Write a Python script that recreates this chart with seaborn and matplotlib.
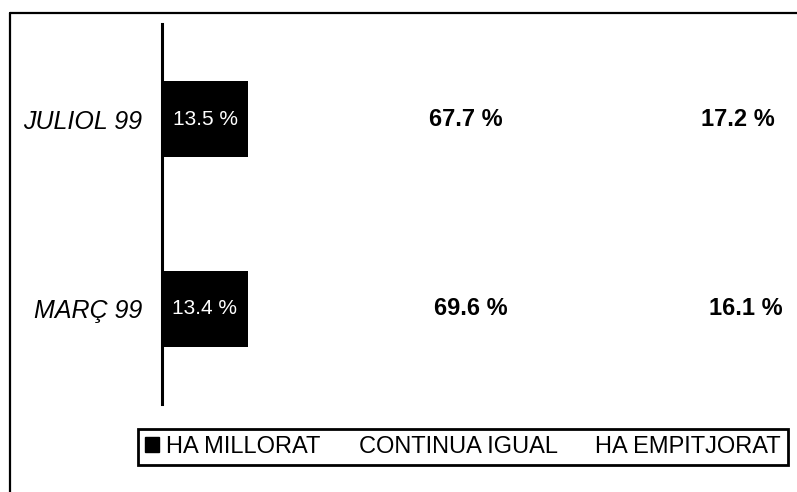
import numpy as np
import pandas as pd
import matplotlib.pyplot as plt
import seaborn as sns
from matplotlib.patches import Patch
from matplotlib.lines import Line2D

# Chart data
periods = ['JULIOL 99', 'MARÇ 99']
millorat = [13.5, 13.4]
igual = [67.7, 69.6]
empitjorat = [17.2, 16.1]
series_names = ['HA MILLORAT', 'CONTINUA IGUAL', 'HA EMPITJORAT']

sns.set_style('white')
plt.rcParams['font.family'] = ['Liberation Sans', 'DejaVu Sans']
plt.rcParams['text.color'] = 'black'
plt.rcParams['ytick.color'] = 'black'
plt.rcParams['ytick.labelcolor'] = 'black'

df = pd.DataFrame({
    'period': periods,
    'millorat': millorat,
    'igual': igual,
    'empitjorat': empitjorat,
})
df['cum1'] = df['millorat']
df['cum2'] = df['cum1'] + df['igual']
df['cum3'] = df['cum2'] + df['empitjorat']

fig = plt.figure(figsize=(7.97, 4.92), dpi=100)
ax = fig.add_axes([0.203, 0.179, 0.805, 0.772])

# Stacked bars drawn back to front
sns.barplot(data=df, y='period', x='cum3', color='white', width=0.4,
            orient='h', ax=ax, linewidth=0)
sns.barplot(data=df, y='period', x='cum2', color='white', width=0.4,
            orient='h', ax=ax, linewidth=0)
sns.barplot(data=df, y='period', x='cum1', color='black', width=0.4,
            orient='h', ax=ax, linewidth=0)

ax.set_xlim(0, 100)
ax.set_ylim(1.5, -0.5)
ax.set_xlabel('')
ax.set_ylabel('')
ax.set_xticks([])
for side in ['top', 'right', 'bottom']:
    ax.spines[side].set_visible(False)
ax.spines['left'].set_linewidth(2.2)
ax.spines['left'].set_color('black')
ax.tick_params(axis='y', length=0, pad=14)
for lbl in ax.get_yticklabels():
    lbl.set_fontsize(18)
    lbl.set_fontstyle('italic')
    lbl.set_color('black')

# Value labels
for i, row in df.iterrows():
    ax.text(row['millorat'] / 2, i, f"{row['millorat']:.1f} %", color='white',
            ha='center', va='center', fontsize=15)
    ax.text(row['cum1'] + row['igual'] / 2, i, f"{row['igual']:.1f} %", color='black',
            ha='center', va='center', fontsize=17, fontweight='bold')
    ax.text(row['cum2'] + row['empitjorat'] / 2, i, f"{row['empitjorat']:.1f} %", color='black',
            ha='center', va='center', fontsize=17, fontweight='bold')

handles = [Patch(facecolor='black', edgecolor='black'),
           Patch(facecolor='white', edgecolor='white'),
           Patch(facecolor='white', edgecolor='white')]
leg = fig.legend(handles, series_names, loc='center', bbox_to_anchor=(0.581, 0.0915),
                 ncol=3, fontsize=17, frameon=True, fancybox=False, framealpha=1,
                 handlelength=0.6, handleheight=0.6, handletextpad=0.3,
                 columnspacing=0.7, borderpad=0.3, borderaxespad=0)
leg.get_frame().set_edgecolor('black')
leg.get_frame().set_linewidth(2)
for t in leg.get_texts():
    t.set_color('black')

# Outer frame (top and left edges)
fig.add_artist(Line2D([10 / 797, 1.0], [1 - 13 / 492, 1 - 13 / 492],
                      color='black', linewidth=1.6))
fig.add_artist(Line2D([10 / 797, 10 / 797], [1 - 13 / 492, 0.0],
                      color='black', linewidth=1.6))

fig.savefig('out.png', dpi=100)
